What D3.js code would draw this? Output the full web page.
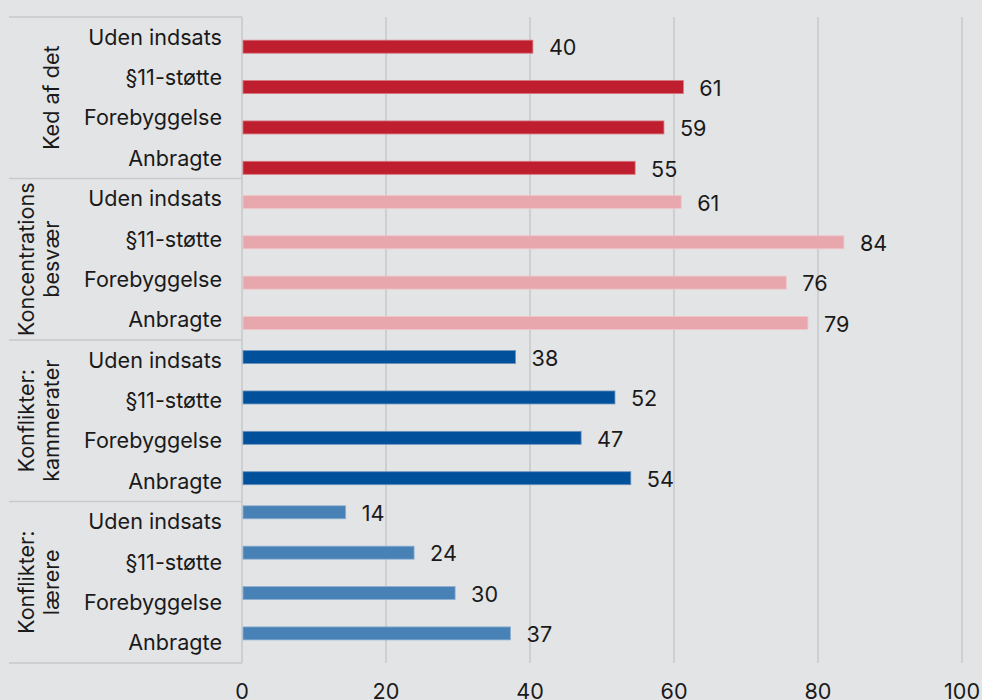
<!DOCTYPE html>
<html>
<head>
<meta charset="utf-8">
<script src="https://cdn.jsdelivr.net/npm/d3@7"></script>
<style>
  html, body { margin: 0; padding: 0; background: #e3e4e6; }
  svg { display: block; }
  text { font-family: Inter, "Noto Sans", sans-serif; fill: #1a1a1a; }
</style>
</head>
<body>
<svg id="chart" width="982" height="700"></svg>
<script>
// ---- data ----
const groups = ["Ked af det", "Koncentrations besvær", "Konflikter: kammerater", "Konflikter: lærere"];
const groupLines = [["Ked af det"], ["Koncentrations", "besvær"], ["Konflikter:", "kammerater"], ["Konflikter:", "lærere"]];
const categories = ["Uden indsats", "§11-støtte", "Forebyggelse", "Anbragte"];
const kedAfDet = [40.4, 61.3, 58.6, 54.6];
const koncentrationsbesvaer = [61.0, 83.6, 75.6, 78.6];
const konfliktKammerater = [38.0, 51.8, 47.1, 54.0];
const konfliktLaerere = [14.4, 23.9, 29.6, 37.3];
const seriesValues = [kedAfDet, koncentrationsbesvaer, konfliktKammerater, konfliktLaerere];
const groupColors = ["#be1e2d", "#e8a7ad", "#00509b", "#4781b6"];
const groupStrokes = ["#d9737c", "#f0c6ca", "#6d93bd", "#8fb0d2"];
const xTicks = [0, 20, 40, 60, 80, 100];

// ---- layout ----
const svg = d3.select("#chart");
const plotLeft = 242, plotRight = 962, plotTop = 17, plotBottom = 663;
const fs = 21.6;

const rows = [];
groups.forEach((g, gi) => categories.forEach((c, ci) => rows.push({
  key: gi + "|" + ci, group: g, gi, category: c, value: seriesValues[gi][ci]
})));

const x = d3.scaleLinear().domain([0, 100]).range([plotLeft, plotRight]);
const y = d3.scaleBand().domain(rows.map(r => r.key)).range([plotTop, plotBottom]).padding(0);
const gBand = d3.scaleBand().domain(groups).range([plotTop, plotBottom]).padding(0);
const barShift = d3.scalePoint().domain(groups).range([9.5, -9.4]);
const barH = 13;

// gridlines
svg.append("g").selectAll("line").data(xTicks.filter(t => t > 0)).join("line")
  .attr("x1", d => x(d)).attr("x2", d => x(d))
  .attr("y1", plotTop).attr("y2", plotBottom)
  .attr("stroke", "#c8c9cb").attr("stroke-width", 1.6);

// left frame
const frame = svg.append("g");
frame.append("line").attr("x1", plotLeft).attr("x2", plotLeft).attr("y1", plotTop).attr("y2", plotBottom)
  .attr("stroke", "#c8c9cb").attr("stroke-width", 1.6);
const bounds = groups.map(g => gBand(g)).concat([plotBottom]);
frame.selectAll("line.sep").data(bounds).join("line").attr("class", "sep")
  .attr("x1", 9).attr("x2", plotLeft).attr("y1", d => d).attr("y2", d => d)
  .attr("stroke", "#c8c9cb").attr("stroke-width", 1.6);

// bars
svg.append("g").selectAll("rect").data(rows).join("rect")
  .attr("x", x(0) + 1)
  .attr("y", d => y(d.key) + y.bandwidth() / 2 + barShift(d.group) - barH / 2)
  .attr("width", d => x(d.value) - x(0) - 1)
  .attr("height", barH)
  .attr("fill", d => groupColors[d.gi])
  .attr("stroke", d => groupStrokes[d.gi])
  .attr("stroke-width", 0.8);

// value labels
svg.append("g").selectAll("text").data(rows).join("text")
  .attr("x", d => x(d.value) + 16)
  .attr("y", d => y(d.key) + y.bandwidth() / 2 + barShift(d.group) + 8.7)
  .attr("font-size", fs)
  .text(d => Math.round(d.value));

// category labels
svg.append("g").selectAll("text").data(rows).join("text")
  .attr("x", 222)
  .attr("y", d => y(d.key) + y.bandwidth() / 2 + 7.5)
  .attr("text-anchor", "end")
  .attr("font-size", fs)
  .text(d => d.category);

// group labels (rotated)
const gl = svg.append("g").selectAll("text").data(groups).join("text")
  .attr("transform", g => `translate(59,${gBand(g) + gBand.bandwidth() / 2}) rotate(-90)`)
  .attr("text-anchor", "middle")
  .attr("font-size", fs);
gl.each(function(g, i) {
  const lines = groupLines[i];
  d3.select(this).selectAll("tspan").data(lines).join("tspan")
    .attr("x", 0)
    .attr("y", (d, j) => (j - (lines.length - 1)) * 25.5)
    .text(d => d);
});

// x axis tick labels
svg.append("g").selectAll("text").data(xTicks).join("text")
  .attr("x", d => x(d)).attr("y", 698.5)
  .attr("text-anchor", "middle")
  .attr("font-size", fs)
  .text(d => d);
</script>
</body>
</html>
